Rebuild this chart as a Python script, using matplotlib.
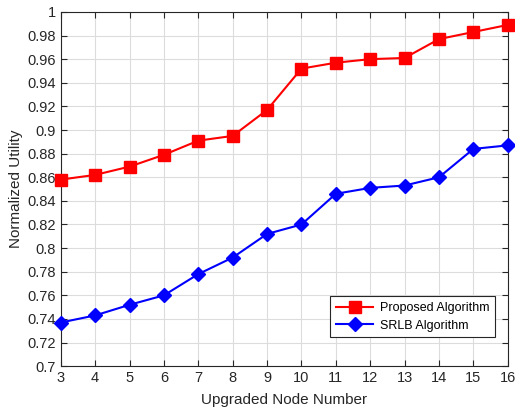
import matplotlib.pyplot as plt
import numpy as np

plt.rcParams['font.family'] = ['Liberation Sans', 'DejaVu Sans']

# datos
nodos = [3, 4, 5, 6, 7, 8, 9, 10, 11, 12, 13, 14, 15, 16]
propuesto = [0.858, 0.862, 0.869, 0.879, 0.891, 0.895, 0.917, 0.952, 0.957, 0.960, 0.961, 0.977, 0.983, 0.989]
srlb = [0.737, 0.743, 0.752, 0.760, 0.778, 0.792, 0.812, 0.820, 0.846, 0.851, 0.853, 0.860, 0.884, 0.887]

gris = '#262626'

fig = plt.figure(figsize=(5.15, 4.11), dpi=100)
ax = fig.add_axes([0.118, 0.109, 0.868, 0.862])

ax.plot(nodos, propuesto, color='red', marker='s', markersize=8, linewidth=1.5,
        clip_on=False, zorder=3, label='Proposed Algorithm')
ax.plot(nodos, srlb, color='blue', marker='D', markersize=7, linewidth=1.5,
        clip_on=False, zorder=3, label='SRLB Algorithm')

ax.set_xlim(3, 16)
ax.set_ylim(0.7, 1.0)
ax.set_xticks(nodos)
yt = np.round(np.arange(0.7, 1.001, 0.02), 2)
ax.set_yticks(yt)
ax.set_yticklabels([f'{v:g}' for v in yt])

ax.grid(True, color='#dcdcdc', linewidth=0.8)
ax.set_axisbelow(True)
ax.tick_params(direction='in', top=True, right=True, labelsize=10.5, colors=gris, length=4)
for s in ax.spines.values():
    s.set_color(gris)
    s.set_linewidth(0.8)

ax.set_xlabel('Upgraded Node Number', fontsize=11, color=gris, labelpad=6)
ax.set_ylabel('Normalized Utility', fontsize=11, color=gris, labelpad=3)

leg = ax.legend(loc='lower right', bbox_to_anchor=(0.971, 0.082), borderaxespad=0,
                fontsize=9, fancybox=False, edgecolor=gris, framealpha=1,
                handlelength=3.0, handletextpad=0.5, borderpad=0.45, labelspacing=0.45)
leg.get_frame().set_linewidth(0.8)

fig.savefig('out.png', dpi=100)
